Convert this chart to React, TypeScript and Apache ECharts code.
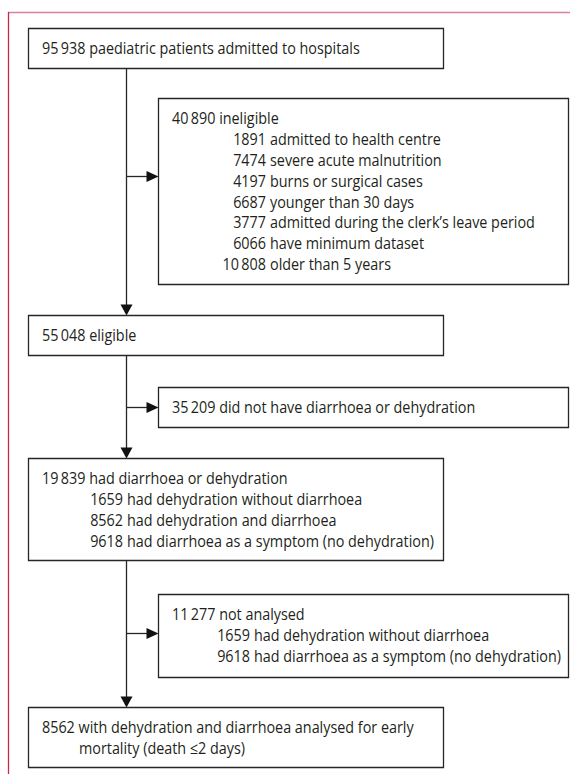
import React, { useEffect, useRef } from "react";
import * as echarts from "echarts";

// ---------- data ----------
const mainCounts = [95938, 55048, 19839, 8562];
const mainLabels = [
  "paediatric patients admitted to hospitals",
  "eligible",
  "had diarrhoea or dehydration",
  "with dehydration and diarrhoea analysed for early",
];
const finalLabelContinuation = "mortality (death \u22642 days)";

const exclusionCounts = [40890, 35209, 11277];
const exclusionLabels = [
  "ineligible",
  "did not have diarrhoea or dehydration",
  "not analysed",
];

const ineligibleCounts = [1891, 7474, 4197, 6687, 3777, 6066, 10808];
const ineligibleLabels = [
  "admitted to health centre",
  "severe acute malnutrition",
  "burns or surgical cases",
  "younger than 30 days",
  "admitted during the clerk\u2019s leave period",
  "have minimum dataset",
  "older than 5 years",
];

const subgroupCounts = [1659, 8562, 9618];
const subgroupLabels = [
  "had dehydration without diarrhoea",
  "had dehydration and diarrhoea",
  "had diarrhoea as a symptom (no dehydration)",
];

const notAnalysedCounts = [1659, 9618];
const notAnalysedLabels = [
  "had dehydration without diarrhoea",
  "had diarrhoea as a symptom (no dehydration)",
];

// ---------- layout / style ----------
const FONT_FAMILY = "'Open Sans', 'Noto Sans', sans-serif";
const FONT_SIZE = 16;
const TEXT_COLOR = "#231f20";
const BOX_COLOR = "#262626";
const LINE_H = 21;

const fmt = (n: number) =>
  n >= 10000
    ? String(Math.floor(n / 1000)) + "\u2009" + String(n % 1000).padStart(3, "0")
    : String(n);

function measure(text: string): number {
  const c = document.createElement("canvas").getContext("2d");
  if (!c) return text.length * 8;
  c.font = `${FONT_SIZE}px ${FONT_FAMILY}`;
  return c.measureText(text).width;
}

export default function App() {
  const ref = useRef<HTMLDivElement>(null);

  useEffect(() => {
    if (!ref.current) return;
    const chart = echarts.init(ref.current, undefined, { renderer: "svg" });

    const refLine = fmt(mainCounts[0]) + " " + mainLabels[0];
    const sx = 318 / measure(refLine);

    const els: any[] = [];

    const text = (x: number, y: number, t: string, align: "left" | "right" = "left") =>
      els.push({
        type: "text",
        x,
        y,
        scaleX: sx,
        silent: true,
        style: {
          text: t,
          fontSize: FONT_SIZE,
          fontFamily: FONT_FAMILY,
          fill: TEXT_COLOR,
          align,
          verticalAlign: "middle",
        },
      });

    const box = (x: number, y: number, w: number, h: number) =>
      els.push({
        type: "rect",
        shape: { x: x + 0.5, y: y + 0.5, width: w, height: h },
        style: { fill: "#fff", stroke: BOX_COLOR, lineWidth: 1.3 },
      });

    const vline = (x: number, y1: number, y2: number) =>
      els.push({
        type: "line",
        shape: { x1: x + 0.5, y1, x2: x + 0.5, y2 },
        style: { stroke: BOX_COLOR, lineWidth: 1.3 },
      });

    const hline = (y: number, x1: number, x2: number) =>
      els.push({
        type: "line",
        shape: { x1, y1: y + 0.5, x2, y2: y + 0.5 },
        style: { stroke: BOX_COLOR, lineWidth: 1.3 },
      });

    const downArrow = (x: number, tip: number) =>
      els.push({
        type: "polygon",
        shape: { points: [[x + 0.5 - 6, tip - 11], [x + 0.5 + 6, tip - 11], [x + 0.5, tip]] },
        style: { fill: "#111" },
      });

    const rightArrow = (y: number, tip: number) =>
      els.push({
        type: "polygon",
        shape: { points: [[tip - 12, y + 0.5 - 5.5], [tip - 12, y + 0.5 + 5.5], [tip, y + 0.5]] },
        style: { fill: "#111" },
      });

    // frame
    els.push({
      type: "line",
      shape: { x1: 8, y1: 12.5, x2: 570, y2: 12.5 },
      style: { stroke: "#d9809a", lineWidth: 1.6 },
    });
    els.push({
      type: "line",
      shape: { x1: 8.5, y1: 12, x2: 8.5, y2: 774 },
      style: { stroke: "#c8284a", lineWidth: 1.3 },
    });

    const FX = 126; // flow line x
    const mainBoxes = [
      { y: 28, h: 40 },
      { y: 315, h: 40 },
      { y: 458, h: 102 },
      { y: 707, h: 60 },
    ];
    const exBoxes = [
      { y: 98, h: 186, arrowY: 176 },
      { y: 387, h: 40, arrowY: 407 },
      { y: 594, h: 83, arrowY: 633 },
    ];
    const MX = 28, MW = 415, EX = 158, EW = 410;

    // connectors
    for (let i = 0; i < mainBoxes.length - 1; i++) {
      const top = mainBoxes[i].y + mainBoxes[i].h + 1;
      const tip = mainBoxes[i + 1].y;
      vline(FX, top, tip - 10);
      downArrow(FX, tip + 0.5);
      hline(exBoxes[i].arrowY, FX + 0.5, EX - 11);
      rightArrow(exBoxes[i].arrowY, EX + 0.5);
    }

    // main boxes
    mainBoxes.forEach((b, i) => {
      box(MX, b.y, MW, b.h);
      text(MX + 14, b.y + 20, fmt(mainCounts[i]) + " " + mainLabels[i]);
    });
    // subgroups inside 3rd main box
    subgroupCounts.forEach((c, k) => {
      const y = mainBoxes[2].y + 20 + (k + 1) * LINE_H;
      text(123, y, fmt(c), "right");
      text(127, y, subgroupLabels[k]);
    });
    // final box continuation
    text(79, mainBoxes[3].y + 20 + LINE_H, finalLabelContinuation);

    // exclusion boxes
    exBoxes.forEach((b, j) => {
      box(EX, b.y, EW, b.h);
      text(EX + 14, b.y + 20, fmt(exclusionCounts[j]) + " " + exclusionLabels[j]);
    });
    ineligibleCounts.forEach((c, k) => {
      const y = exBoxes[0].y + 20 + (k + 1) * 20.8;
      text(266, y, fmt(c), "right");
      text(270, y, ineligibleLabels[k]);
    });
    notAnalysedCounts.forEach((c, k) => {
      const y = exBoxes[2].y + 20 + (k + 1) * LINE_H;
      text(250, y, fmt(c), "right");
      text(254, y, notAnalysedLabels[k]);
    });

    chart.setOption({
      animation: false,
      backgroundColor: "#ffffff",
      graphic: { elements: els },
    });

    return () => chart.dispose();
  }, []);

  return (
    <div
      ref={ref}
      style={{ position: "fixed", left: 0, top: 0, width: 570, height: 774, background: "#fff" }}
    />
  );
}
